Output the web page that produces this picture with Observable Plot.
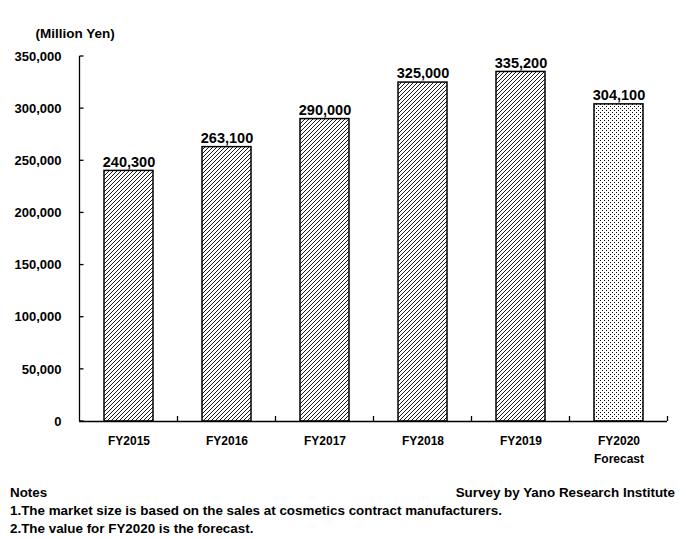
<!DOCTYPE html>
<html>
<head>
<meta charset="utf-8">
<script src="https://cdn.jsdelivr.net/npm/d3@7"></script>
<script src="https://cdn.jsdelivr.net/npm/@observablehq/plot@0.6"></script>
<style>
  body { margin: 0; background: #fff; font-family: "Liberation Sans", Arial, sans-serif; font-weight: bold; color: #000; }
  #wrap { position: relative; width: 679px; height: 539px; }
  #chart { position: absolute; left: 0; top: 0; }
  .note { position: absolute; font-size: 13.4px; font-weight: bold; white-space: nowrap; line-height: 18px; }
</style>
</head>
<body>
<div id="wrap">
  <div id="chart"></div>
  <div class="note" style="left:10px; top:484px;">Notes</div>
  <div class="note" style="right:4px; top:484px;">Survey by Yano Research Institute</div>
  <div class="note" style="left:10px; top:502px;">1.The market size is based on the sales at cosmetics contract manufacturers.</div>
  <div class="note" style="left:10px; top:520px;">2.The value for FY2020 is the forecast.</div>
</div>
<script>
const categories = ["FY2015", "FY2016", "FY2017", "FY2018", "FY2019", "FY2020"];
const values = [240300, 263100, 290000, 325000, 335200, 304100];
const isForecast = [false, false, false, false, false, true];
const xTickLabels = ["FY2015", "FY2016", "FY2017", "FY2018", "FY2019", "FY2020\nForecast"];
const yTicks = [0, 50000, 100000, 150000, 200000, 250000, 300000, 350000];
const unitLabel = "(Million Yen)";

const data = categories.map((c, i) => ({cat: c, value: values[i], forecast: isForecast[i]}));
const fmt = d3.format(",");

function axisDecor(index, scales, vals, dims) {
  const x = scales.x, y = scales.y;
  const step = x(categories[1]) - x(categories[0]);
  const x0 = x(categories[0]) - 0.25 * step;
  const g = d3.create("svg:g").attr("stroke", "black").attr("fill", "none").attr("stroke-width", 1.3);
  g.append("line").attr("x1", x0).attr("x2", x0).attr("y1", y(yTicks[yTicks.length - 1])).attr("y2", y(0));
  for (const t of yTicks) {
    g.append("line").attr("x1", x0).attr("x2", x0 + 4).attr("y1", y(t)).attr("y2", y(t));
  }
  categories.forEach((c) => {
    const b = x(c) + 0.75 * step;
    g.append("line").attr("x1", b).attr("x2", b).attr("y1", y(0)).attr("y2", y(0) - 5);
  });
  return g.node();
}

const plot = Plot.plot({
  width: 679,
  height: 470,
  marginLeft: 79,
  marginRight: 12,
  marginTop: 56,
  marginBottom: 49,
  style: {fontFamily: "'Liberation Sans', Arial, sans-serif", fontWeight: "bold", color: "#000", background: "#fff"},
  x: {domain: categories, paddingInner: 0.5, paddingOuter: 0.25, label: null},
  y: {domain: [0, 350000], label: null},
  marks: [
    Plot.barY(data.filter(d => !d.forecast), {x: "cat", y: "value", fill: "url(#hatch)", stroke: "black", strokeWidth: 1.5}),
    Plot.barY(data.filter(d => d.forecast), {x: "cat", y: "value", fill: "url(#dots)", stroke: "black", strokeWidth: 1.5}),
    Plot.ruleY([0], {stroke: "black", strokeWidth: 1.3}),
    axisDecor,
    Plot.axisY(yTicks, {tickSize: 0, tickPadding: 18, tickFormat: d => fmt(d), fontSize: 13, fontWeight: "bold", label: null}),
    Plot.axisX({tickSize: 0, tickPadding: 11, tickFormat: (d) => xTickLabels[categories.indexOf(d)], fontSize: 12, fontWeight: "bold", lineHeight: 1.5, lineAnchor: "top", label: null}),
    Plot.text(data, {x: "cat", y: "value", text: d => fmt(d.value), dy: -9, fontSize: 14.5, fontWeight: "bold"}),
    Plot.text([unitLabel], {frameAnchor: "top-left", dx: -44, dy: -28, textAnchor: "start", fontSize: 13.5, fontWeight: "bold"})
  ]
});

const svg = d3.select(plot);
const defs = svg.insert("defs", ":first-child");
const hatch = defs.append("pattern").attr("id", "hatch").attr("patternUnits", "userSpaceOnUse").attr("width", 4).attr("height", 4);
hatch.append("rect").attr("width", 4).attr("height", 4).attr("fill", "white");
hatch.append("path").attr("d", "M-1,1 L1,-1 M0,4 L4,0 M3,5 L5,3").attr("stroke", "black").attr("stroke-width", 0.9);
const dots = defs.append("pattern").attr("id", "dots").attr("patternUnits", "userSpaceOnUse").attr("width", 4).attr("height", 4);
dots.append("rect").attr("width", 4).attr("height", 4).attr("fill", "white");
dots.append("rect").attr("x", 0).attr("y", 0).attr("width", 1).attr("height", 1).attr("fill", "black");
dots.append("rect").attr("x", 2).attr("y", 2).attr("width", 1).attr("height", 1).attr("fill", "black");

document.getElementById("chart").appendChild(plot);
</script>
</body>
</html>
